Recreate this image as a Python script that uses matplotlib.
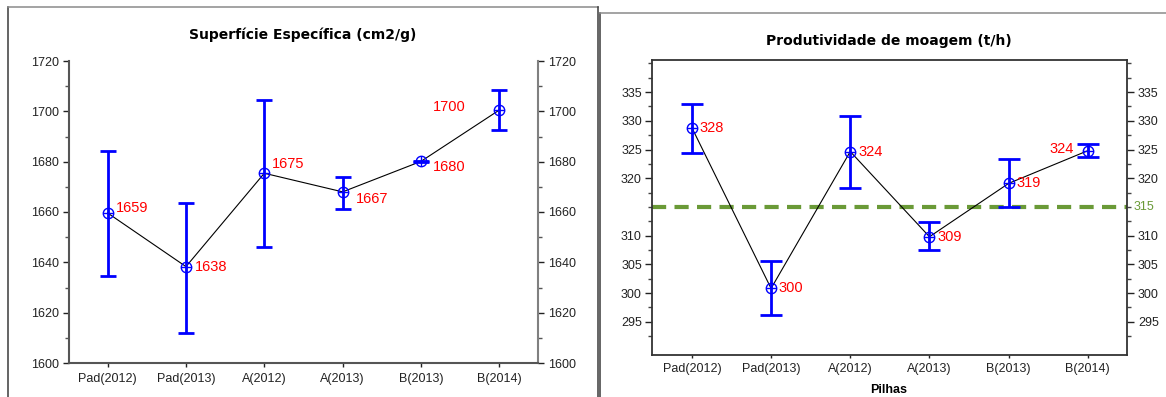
import matplotlib
matplotlib.use("Agg")
import matplotlib.pyplot as plt
from matplotlib.lines import Line2D
from matplotlib.ticker import FixedLocator, MultipleLocator
import numpy as np

# ---------------- data ----------------
categories = ["Pad(2012)", "Pad(2013)", "A(2012)", "A(2013)", "B(2013)", "B(2014)"]

sup_mean = [1659.6, 1638.3, 1675.4, 1668.0, 1680.1, 1700.5]
sup_low = [1634.5, 1612.0, 1646.2, 1661.2, 1679.8, 1692.7]
sup_high = [1684.1, 1663.7, 1704.5, 1673.9, 1680.4, 1708.5]
sup_labels = ["1659", "1638", "1675", "1667", "1680", "1700"]

prod_mean = [328.8, 300.8, 324.65, 309.8, 319.1, 324.8]
prod_low = [324.4, 296.2, 318.3, 307.5, 314.95, 323.7]
prod_high = [333.0, 305.6, 330.9, 312.3, 323.3, 326.0]
prod_labels = ["328", "300", "324", "309", "319", "324"]
prod_ref = 315

W, H = 1166, 397
fig = plt.figure(figsize=(W / 100, H / 100), dpi=100)

TICKFONT = "Liberation Sans"
TITLEFONT = "DejaVu Sans"
BLUE = "#0000FF"
GREEN = "#6A9A37"

def fx(px):
    return px / W

def fy(py):
    return 1 - py / H

# panel frames
frame_dark = "#3a3a3a"
frame_gray = "#8a8a8a"
fig.add_artist(Line2D([fx(8), fx(8)], [0, fy(7)], transform=fig.transFigure, color=frame_dark, lw=1.1))
fig.add_artist(Line2D([fx(8), fx(598)], [fy(7), fy(7)], transform=fig.transFigure, color=frame_gray, lw=1.1))
fig.add_artist(Line2D([fx(598), fx(598)], [0, fy(7)], transform=fig.transFigure, color=frame_dark, lw=1.1))
fig.add_artist(Line2D([fx(600), fx(600)], [0, fy(13)], transform=fig.transFigure, color=frame_dark, lw=1.1))
fig.add_artist(Line2D([fx(600), 1], [fy(13), fy(13)], transform=fig.transFigure, color=frame_gray, lw=1.1))

x = np.arange(len(categories))

def draw_series(ax, mean, low, high, capsize, elw):
    mean = np.array(mean); low = np.array(low); high = np.array(high)
    ax.plot(x, mean, color="black", lw=0.8, zorder=2)
    ax.errorbar(x, mean, yerr=[mean - low, high - mean], fmt="none", ecolor=BLUE,
                elinewidth=elw, capsize=capsize, capthick=elw, zorder=3)
    ax.plot(x, mean, "o", mfc="none", mec=BLUE, ms=7.5, mew=1.0, zorder=4)
    ax.plot(x, mean, "+", color=BLUE, ms=7.5, mew=1.0, zorder=5)

# ---------------- left chart ----------------
ax1 = fig.add_axes([fx(68.5), fy(363), fx(538.4) - fx(68.5), fy(61) - fy(363)])
draw_series(ax1, sup_mean, sup_low, sup_high, capsize=5.8, elw=2.0)
ax1.set_xlim(-0.5, 5.5)
ax1.set_ylim(1600, 1720)
ax1.set_xticks(x)
ax1.set_xticklabels(categories, fontfamily=TICKFONT, fontsize=9)
ax1.yaxis.set_major_locator(MultipleLocator(20))
ax1.yaxis.set_minor_locator(MultipleLocator(10))
ax1.yaxis.set_ticks_position("both")
ax1.tick_params(axis="y", which="major", direction="out", length=4.5, width=1, pad=2.5,
                labelright=True, labelsize=9, colors="#222222")
ax1.tick_params(axis="y", which="minor", direction="out", length=3, width=1, colors="#555555")
ax1.tick_params(axis="x", direction="out", length=3, width=1, pad=4, colors="#222222")
for lab in ax1.get_yticklabels():
    lab.set_fontfamily(TICKFONT)
ax1.spines["top"].set_visible(False)
ax1.spines["left"].set_color("#555555")
ax1.spines["bottom"].set_color("#555555")
ax1.spines["right"].set_color("#808080")
for s in ["left", "bottom", "right"]:
    ax1.spines[s].set_linewidth(1.5)

sup_offsets = [(6.2, 3.6), (6.5, 0), (5.8, 6.5), (9.7, -4.8), (8.6, -4.3), (-24.5, 2.4)]
sup_ha = ["left", "left", "left", "left", "left", "right"]
for xi, yi, lab, off, ha in zip(x, sup_mean, sup_labels, sup_offsets, sup_ha):
    ax1.annotate(lab, (xi, yi), xytext=off, textcoords="offset points", ha=ha, va="center",
                 color="red", fontsize=10.5, fontfamily=TICKFONT)

fig.text(fx(303), fy(35), "Superfície Específica (cm2/g)", ha="center", va="center",
         fontsize=10, fontweight="bold", fontfamily=TITLEFONT)

# ---------------- right chart ----------------
ax2 = fig.add_axes([fx(652.3), fy(355), fx(1127.4) - fx(652.3), fy(60) - fy(355)])
ax2.axhline(prod_ref, color=GREEN, lw=3, dashes=(3.4, 2.0), zorder=1)
draw_series(ax2, prod_mean, prod_low, prod_high, capsize=7.8, elw=2.0)
ax2.set_xlim(-0.5, 5.5)
ax2.set_ylim(289.2, 340.6)
ax2.set_xticks(x)
ax2.set_xticklabels(categories, fontfamily=TICKFONT, fontsize=9)
major = [295, 300, 305, 310, 320, 325, 330, 335]
minor = [292.5, 297.5, 302.5, 307.5, 312.5, 315, 317.5, 322.5, 327.5, 332.5, 337.5, 340]
ax2.yaxis.set_major_locator(FixedLocator(major))
ax2.yaxis.set_minor_locator(FixedLocator(minor))
ax2.yaxis.set_ticks_position("both")
ax2.tick_params(axis="y", which="major", direction="out", length=5, width=1, pad=2.5,
                labelright=True, labelsize=9, colors="#222222")
ax2.tick_params(axis="y", which="minor", direction="out", length=3, width=1, colors="#444444")
ax2.tick_params(axis="x", direction="out", length=2.5, width=1, pad=3.5, colors="#222222")
for lab in ax2.get_yticklabels():
    lab.set_fontfamily(TICKFONT)
for s in ax2.spines.values():
    s.set_color("#333333")
    s.set_linewidth(1.3)

prod_offsets = [(5.8, 0), (5.2, 0), (5.8, 0), (5.8, 0), (5.8, 0), (-10.3, 1)]
prod_ha = ["left", "left", "left", "left", "left", "right"]
for xi, yi, lab, off, ha in zip(x, prod_mean, prod_labels, prod_offsets, prod_ha):
    ax2.annotate(lab, (xi, yi), xytext=off, textcoords="offset points", ha=ha, va="center",
                 color="red", fontsize=10.5, fontfamily=TICKFONT)

ax2.annotate(str(prod_ref), (1, prod_ref), xycoords=("axes fraction", "data"),
             xytext=(4.5, 0), textcoords="offset points", ha="left", va="center",
             color=GREEN, fontsize=9, fontfamily=TICKFONT)

fig.text(fx(889), fy(40.7), "Produtividade de moagem (t/h)", ha="center", va="center",
         fontsize=10, fontweight="bold", fontfamily=TITLEFONT)
fig.text(fx(889), fy(390), "Pilhas", ha="center", va="center",
         fontsize=9, fontweight="bold", fontfamily=TICKFONT)

fig.savefig("out.png", dpi=100)
